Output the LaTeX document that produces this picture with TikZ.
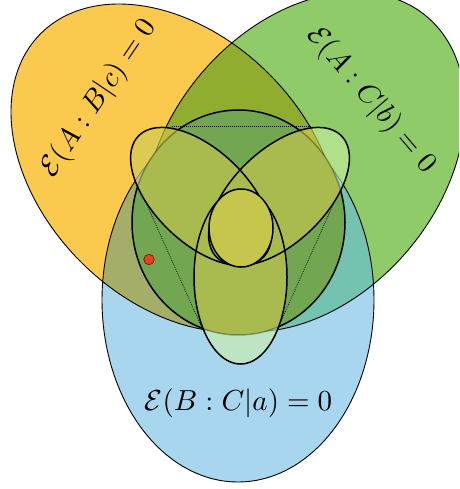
\documentclass[tikz,border=0pt]{standalone}
\usepackage{graphicx}
\definecolor{cO}{HTML}{FCC94F}
\definecolor{cG}{HTML}{8FCC69}
\definecolor{cB}{HTML}{A8D6EE}
\definecolor{cOG}{HTML}{90AD30}
\definecolor{cOB}{HTML}{A5AE68}
\definecolor{cGB}{HTML}{74C2B0}
\definecolor{cOGB}{HTML}{7FA04A}
\definecolor{cCirc}{HTML}{72A650}
\definecolor{pO}{HTML}{DCCB50}
\definecolor{pG}{HTML}{B1E08A}
\definecolor{pB}{HTML}{BCE4C5}
\definecolor{pOG}{HTML}{BDBE3D}
\definecolor{pOB}{HTML}{C4C487}
\definecolor{pGB}{HTML}{9FD6B2}
\definecolor{pOGB}{HTML}{A9BA4F}
\definecolor{pC}{HTML}{A9BA4F}
\definecolor{cEgg}{HTML}{C5C74D}
\definecolor{cDot}{HTML}{E8411C}
\newcommand{\ellpath}[5]{plot[domain=0:360,samples=181,variable=\t] ({(#1)+(#3)*cos(\t)*cos(#5)-(#4)*sin(\t)*sin(#5)},{(#2)+(#3)*cos(\t)*sin(#5)+(#4)*sin(\t)*cos(#5)}) -- cycle}
\begin{document}
\begin{tikzpicture}[x=1pt,y=-1pt,
  bigline/.style={draw=black,line width=0.9pt},
  thickline/.style={draw=black,line width=1.5pt},
  faint/.style={draw=black,draw opacity=0.3,line width=0.9pt},
  faintthick/.style={draw=black,draw opacity=0.3,line width=1.5pt},
  dotline/.style={draw=black,line width=0.7pt,dash pattern=on 0.8pt off 1.2pt}]
\useasboundingbox (0,0) rectangle (459,489);
\clip (0,0) rectangle (459,489);
\def\shO{\ellpath{175}{168}{190}{133}{45}}
\def\shG{\ellpath{304.5}{162}{190}{136}{-50}}
\def\shB{\ellpath{238}{300}{136}{182}{0}}
\def\shC{\ellpath{238.5}{222.5}{106.5}{112.5}{0}}
\def\shPL{\ellpath{201}{196.5}{87}{46.4}{44}}
\def\shPR{\ellpath{279}{196.5}{87}{46.4}{-44}}
\def\shPB{\ellpath{240.5}{277}{46.5}{87}{0}}
\def\shE{\ellpath{241}{228}{32}{39}{0}}
% big sets
\fill[cO] \shO;
\fill[cG] \shG;
\fill[cB] \shB;
\begin{scope}
  \clip \shG;
  \fill[cGB] \shB;
\end{scope}
\begin{scope}
  \clip \shO;
  \fill[cOG] \shG;
  \fill[cOB] \shB;
  \clip \shG;
  \fill[cOGB] \shB;
\end{scope}
\draw[bigline] \shO;
\draw[bigline] \shG;
\draw[bigline] \shB;
% inner circle
\fill[cCirc] \shC;
\draw[thickline] \shC;
% dotted chords
\coordinate (t1) at (172,126);
\coordinate (t2) at (312,126);
\coordinate (l1) at (139,187);
\coordinate (l2) at (202,328);
\coordinate (r1) at (341,187);
\coordinate (r2) at (278,328);
\draw[dotline] (t1) -- (t2);
\draw[dotline] (l1) -- (l2);
\draw[dotline] (r1) -- (r2);
% petals
\begin{scope}
  \clip \shPL \shPR \shPB;
  \fill[pO] \shO;
  \fill[pG] \shG;
  \fill[pB] \shB;
  \begin{scope}
    \clip \shG;
    \fill[pGB] \shB;
  \end{scope}
  \begin{scope}
    \clip \shO;
    \fill[pOG] \shG;
    \fill[pOB] \shB;
    \clip \shG;
    \fill[pOGB] \shB;
  \end{scope}
  \draw[faint] \shO;
  \draw[faint] \shG;
  \draw[faint] \shB;
  \fill[pC] \shC;
  \draw[faintthick] \shC;
\end{scope}
\draw[thickline] \shPL;
\draw[thickline] \shPR;
\draw[thickline] \shPB;
% egg
\fill[cEgg] \shE;
\draw[thickline] \shE;
% dot
\node[circle,draw=black!60!red,fill=cDot,inner sep=0pt,minimum size=10.5pt,line width=0.5pt] (dot) at (149,259.5) {};
% labels
\node[rotate=56] (labA) at (99,98) {\scalebox{2.9}{$\mathcal{E}(A:B|c)=0$}};
\node[rotate=-49.6] (labC) at (371,100) {\scalebox{2.9}{$\mathcal{E}(A:C|b)=0$}};
\node (labB) at (238.5,403) {\scalebox{2.9}{$\mathcal{E}(B:C|a)=0$}};
\end{tikzpicture}
\end{document}
